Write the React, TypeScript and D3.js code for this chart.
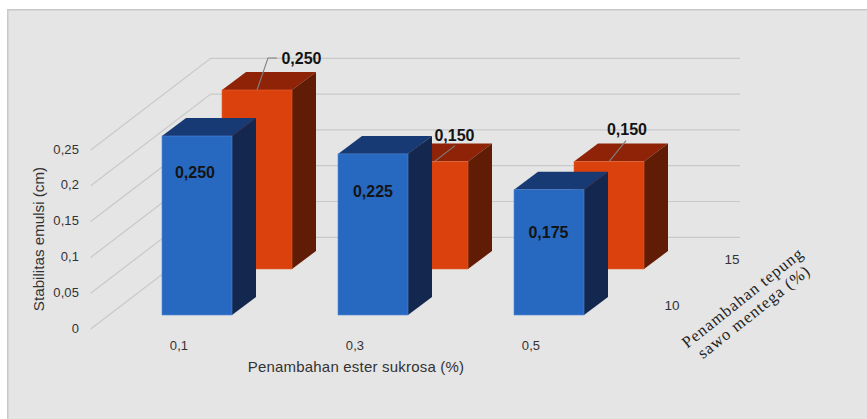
import React from "react";
import * as d3 from "d3";

const W = 867, H = 419;

// Data
const categories = ["0,1", "0,3", "0,5"];
const depthCategories = ["10", "15"];
const valuesFront = [0.25, 0.225, 0.175];   // tepung 10 %
const valuesBack = [0.25, 0.15, 0.15];      // tepung 15 %
const frontLabels = ["0,250", "0,225", "0,175"];
const backLabels = ["0,250", "0,150", "0,150"];
const yTicks = [0, 0.05, 0.1, 0.15, 0.2, 0.25];
const yTickLabels = ["0", "0,05", "0,1", "0,15", "0,2", "0,25"];

const yTitle = "Stabilitas emulsi (cm)";
const xTitle = "Penambahan ester sukrosa (%)";
const zTitle = ["Penambahan tepung", "sawo mentega (%)"];

// Projection
const y = d3.scaleLinear().domain([0, 0.25]).range([0, 179]);
const x = d3.scalePoint<string>().domain(categories).range([162, 514]);
const zx = d3.scalePoint<string>().domain(depthCategories).range([0, 60]);
const zy = d3.scalePoint<string>().domain(depthCategories).range([315, 269]);

const barW = 70, depthX = 24, depthY = 18;
const FONT = "'Liberation Sans', Arial, sans-serif";
const GRID = "#c9c9c9";
const TEXT = "#333333";
const INK = "#141414";

const BLUE = { front: "#2769c1", top: "#173a75", side: "#14284f", edge: "#4f86cf" };
const ORANGE = { front: "#db410d", top: "#8e2308", side: "#611c06", edge: "#e8622e" };

type Pal = typeof BLUE;

function Bar({ left, base, value, pal }: { left: number; base: number; value: number; pal: Pal }) {
  const top = base - y(value);
  const right = left + barW;
  const poly = (pts: number[][]) => pts.map((p) => p.join(",")).join(" ");
  return (
    <g>
      <polygon fill={pal.top} points={poly([[left, top], [left + depthX, top - depthY], [right + depthX, top - depthY], [right, top]])} />
      <polygon fill={pal.side} points={poly([[right, top], [right + depthX, top - depthY], [right + depthX, base - depthY], [right, base]])} />
      <rect x={left} y={top} width={barW} height={base - top} fill={pal.front} stroke={pal.edge} strokeWidth={0.6} />
    </g>
  );
}

const gridFrontX = 90.7, gridFrontY = 329;
const gridBackX = 210.7, gridBackDrop = 91.7, gridEndX = 740;

// Leader lines run from each back bar's top to its label
const leaderOffsets = [
  [[35, 0], [46, -32], [55, -32]],
  [[35, 1], [57, -16]],
  [[35, 0], [52, -21]],
];
const backLabelPos = [[301.5, 58], [454.5, 135], [627, 129]];
const frontLabelPos = [[195, 172], [373, 191], [548.5, 232]];

export default function App() {
  const line = d3.line<number[]>();
  const backBase = zy("15")!;
  const frontBase = zy("10")!;
  const backShift = zx("15")!;
  return (
    <svg width={W} height={H} viewBox={`0 0 ${W} ${H}`} style={{ position: "fixed", left: 0, top: 0, display: "block", background: "#fff" }}>
      <rect x={7} y={9} width={W - 7} height={H - 9} fill="#c9c9c9" />
      <rect x={8.5} y={10.5} width={W - 8.5} height={H - 10.5} fill="#e5e5e5" />

      {yTicks.map((t) => {
        const y0 = gridFrontY - y(t);
        const y1 = y0 - gridBackDrop;
        return (
          <path key={t} fill="none" stroke={GRID} strokeWidth={1.2}
            d={line([[gridFrontX, y0], [gridBackX, y1], [gridEndX, y1]])!} />
        );
      })}
      {yTicks.map((t, i) => (
        <text key={t} x={79} y={gridFrontY - y(t) + 3.5} textAnchor="end" fontFamily={FONT} fontSize={13} letterSpacing={0.1} fill={TEXT}>
          {yTickLabels[i]}
        </text>
      ))}

      {categories.map((c, i) => (
        <Bar key={c} left={x(c)! + backShift} base={backBase} value={valuesBack[i]} pal={ORANGE} />
      ))}
      {categories.map((c, i) => {
        const top = backBase - y(valuesBack[i]);
        const left = x(c)! + backShift;
        const pts = leaderOffsets[i].map(([dx, dy]) => [left + dx, top + dy]);
        return <path key={c} d={line(pts)!} fill="none" stroke="#808080" strokeWidth={1.1} />;
      })}
      {categories.map((c, i) => (
        <Bar key={c} left={x(c)!} base={frontBase} value={valuesFront[i]} pal={BLUE} />
      ))}

      {categories.map((c, i) => (
        <text key={c} x={backLabelPos[i][0]} y={backLabelPos[i][1]} dy="0.35em" textAnchor="middle" fontFamily={FONT} fontWeight="bold" fontSize={16} fill={INK}>
          {backLabels[i]}
        </text>
      ))}
      {categories.map((c, i) => (
        <text key={c} x={frontLabelPos[i][0]} y={frontLabelPos[i][1]} dy="0.35em" textAnchor="middle" fontFamily={FONT} fontWeight="bold" fontSize={16} fill={INK}>
          {frontLabels[i]}
        </text>
      ))}

      {categories.map((c) => (
        <text key={c} x={x(c)! + 17} y={350} textAnchor="middle" fontFamily={FONT} fontSize={13} letterSpacing={0.1} fill={TEXT}>
          {c}
        </text>
      ))}
      <text x={356} y={372} textAnchor="middle" fontFamily={FONT} fontSize={15} letterSpacing={0.2} fill={TEXT}>{xTitle}</text>
      <text transform="translate(44,239) rotate(-90)" textAnchor="middle" fontFamily={FONT} fontSize={15.2} fill={TEXT}>{yTitle}</text>

      <text x={672} y={310} textAnchor="middle" fontFamily={FONT} fontSize={13.5} fill={TEXT}>{depthCategories[0]}</text>
      <text x={732} y={264} textAnchor="middle" fontFamily={FONT} fontSize={13.5} fill={TEXT}>{depthCategories[1]}</text>

      <g transform="translate(746,302) rotate(-38.5)" fontFamily="'Liberation Serif', 'Times New Roman', serif" fontSize={16.5} letterSpacing={1} fill="#222" textAnchor="middle">
        <text x={0} y={0}>{zTitle[0]}</text>
        <text x={0} y={18}>{zTitle[1]}</text>
      </g>
    </svg>
  );
}
